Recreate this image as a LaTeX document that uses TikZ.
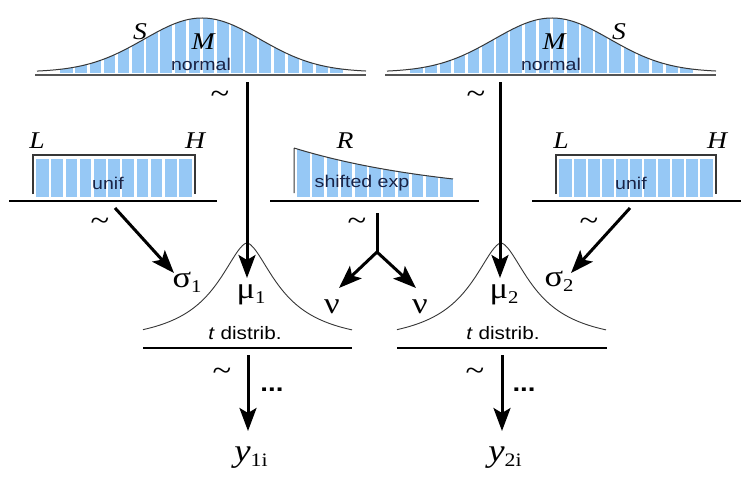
\documentclass[tikz,border=0pt]{standalone}
\usepackage{fontspec}
\setmainfont{Liberation Serif}[FakeStretch=1.15]
\setsansfont{Liberation Sans}[FakeStretch=1.15]
\usetikzlibrary{arrows.meta}
\definecolor{barblue}{RGB}{150,200,245}
\definecolor{navy}{RGB}{25,35,70}
\definecolor{curvegray}{RGB}{55,55,55}
\definecolor{basegray}{RGB}{85,85,85}
\newcommand\lsub[2]{\raisebox{-5pt}{\fontsize{#1}{#1}\selectfont #2}}
\begin{document}
\begin{tikzpicture}[x=1pt,y=-1pt,
  arr/.style={line width=3pt,-{Stealth[length=23pt,width=17pt,inset=5pt]}},
  capl/.style={inner sep=0pt,font=\fontsize{24}{24}\selectfont\itshape},
  lab/.style={inner sep=0pt,font=\sffamily\fontsize{17}{17}\selectfont,text=navy},
  tlab/.style={inner sep=0pt,font=\sffamily\fontsize{18}{18}\selectfont},
  grk/.style={inner sep=0pt,font=\fontsize{30}{30}\selectfont},
  tld/.style={inner sep=0pt,font=\fontsize{30}{30}\selectfont},
  dots/.style={inner sep=0pt,font=\sffamily\bfseries\fontsize{24}{24}\selectfont},
  yl/.style={inner sep=0pt,font=\fontsize{32}{32}\selectfont},
  curve/.style={draw=curvegray,line width=1pt},
  thinbase/.style={draw=black,line width=1.2pt},
  normbase/.style={draw=basegray,line width=1.6pt},
  tbase/.style={draw=black,line width=2.5pt},
  boxline/.style={draw=curvegray,line width=1.2pt},
  gap/.style={draw=white,line width=2.6pt}]
\useasboundingbox[fill=white] (0,0) rectangle (748,491);

% ---------- top normal distributions ----------
\foreach \c/\a/\b in {202/37/366,552/387/716}{
  \begin{scope}
    \clip plot[domain=\a:\b,samples=120] (\x,{72-54*exp(-0.5*((\x-\c)/58)^2)}) -- (\b,73) -- (\a,73) -- cycle;
    \fill[barblue] ({\c-142},0) rectangle ({\c+141},73);
    \foreach \k in {1,...,19}
      \draw[gap] ({\c-142+14.15*\k},0) -- ({\c-142+14.15*\k},80);
  \end{scope}
  \draw[curve] plot[domain=\a:\b,samples=120] (\x,{72-54*exp(-0.5*((\x-\c)/58)^2)});
  \draw[normbase] ({\a-2},75) -- (\b,75);
}

% ---------- uniform distributions ----------
\foreach \l/\r in {33/195,556/716}{
  \fill[barblue] ({\l+3},159) rectangle ({\r-3},197);
  \foreach \k in {1,...,10}
    \draw[gap] ({\l+3+(\r-\l-6)/11*\k},157) -- ({\l+3+(\r-\l-6)/11*\k},199);
  \draw[boxline] (\l,194) -- (\l,155) -- (\r,155) -- (\r,194);
}
\draw[thinbase] (9,201) -- (217,201);
\draw[thinbase] (532,201) -- (741,201);

% ---------- shifted exponential ----------
\begin{scope}
  \clip plot[domain=294:453,samples=60] (\x,{197-49*exp(-(\x-294)/159)}) -- (453,197) -- (294,197) -- cycle;
  \fill[barblue] (297,140) rectangle (453,197);
  \foreach \k in {1,...,10}
    \draw[gap] ({297+14.18*\k},140) -- ({297+14.18*\k},199);
\end{scope}
\draw[curve] (294,193) -- (294,148) plot[domain=294:453,samples=60] (\x,{197-49*exp(-(\x-294)/159)});
\draw[thinbase] (270,201) -- (479,201);

% ---------- t distributions ----------
\foreach \c in {247,501}{
  \draw[curve,line width=0.9pt] plot[domain={\c-104}:{\c+105},samples=150]
    (\x,{346-103/(1+(abs((\x-\c)/39)+0.0005)^1.7)});
}
\draw[tbase] (143,348) -- (352,348);
\draw[tbase] (397,348) -- (607,348);

% ---------- labels ----------
\node[capl] (S1) at (140,32) {S};
\node[capl] (M1) at (203,42) {M};
\node[lab]  (n1) at (201,64) {normal};
\node[capl] (M2) at (554,42) {M};
\node[capl] (S2) at (619,32) {S};
\node[lab]  (n2) at (551,64) {normal};

\node[capl] (L1) at (37,141) {L};
\node[capl] (H1) at (195,141) {H};
\node[lab]  (u1) at (108,183) {unif};
\node[capl] (L2) at (561,141) {L};
\node[capl] (H2) at (717,141) {H};
\node[lab]  (u2) at (631,183) {unif};
\node[capl] (R)  at (345,141) {R};
\node[lab]  (se) at (362,183) {shifted exp};

\node[tld] (t1) at (220,97) {\textasciitilde};
\node[tld] (t2) at (476,97) {\textasciitilde};
\node[tld] (t3) at (100,224) {\textasciitilde};
\node[tld] (t4) at (357,224) {\textasciitilde};
\node[tld] (t5) at (589,224) {\textasciitilde};
\node[tld] (t6) at (222,374) {\textasciitilde};
\node[tld] (t7) at (475,374) {\textasciitilde};

\node[grk] (sig1) at (187,282) {σ\lsub{18}{1}};
\node[grk] (mu1)  at (251,295) {μ\lsub{18}{1}};
\node[grk] (nu1)  at (332,307) {ν};
\node[grk] (nu2)  at (420,307) {ν};
\node[grk] (mu2)  at (504,295) {μ\lsub{18}{2}};
\node[grk] (sig2) at (559,281) {σ\lsub{18}{2}};
\node[tlab] (td1) at (245,333) {\textit{t} distrib.};
\node[tlab] (td2) at (503,333) {\textit{t} distrib.};

\node[dots] (d1) at (272,390) {...};
\node[dots] (d2) at (524,390) {...};
\node[yl] (y1) at (251,458) {\textit{y}\lsub{19}{1i}};
\node[yl] (y2) at (505,458) {\textit{y}\lsub{19}{2i}};

% ---------- connectors ----------
\coordinate (a1s) at (247,82);   \coordinate (a1e) at (247,278);
\coordinate (a2s) at (500,82);   \coordinate (a2e) at (500,278);
\coordinate (a3s) at (115,208);  \coordinate (a3e) at (174,273);
\coordinate (a4s) at (630,208);  \coordinate (a4e) at (571,273);
\coordinate (es)  at (377,213);  \coordinate (ej)  at (377,252);
\coordinate (ea)  at (339,288);  \coordinate (eb)  at (416,288);
\coordinate (b1s) at (248,355);  \coordinate (b1e) at (248,431);
\coordinate (b2s) at (502,355);  \coordinate (b2e) at (502,431);

\draw[arr] (a1s) -- (a1e);
\draw[arr] (a2s) -- (a2e);
\draw[arr] (a3s) -- (a3e);
\draw[arr] (a4s) -- (a4e);
\draw[line width=3pt] (es) -- (ej);
\draw[arr] (ej) -- (ea);
\draw[arr] (ej) -- (eb);
\draw[arr] (b1s) -- (b1e);
\draw[arr] (b2s) -- (b2e);
\end{tikzpicture}
\end{document}
